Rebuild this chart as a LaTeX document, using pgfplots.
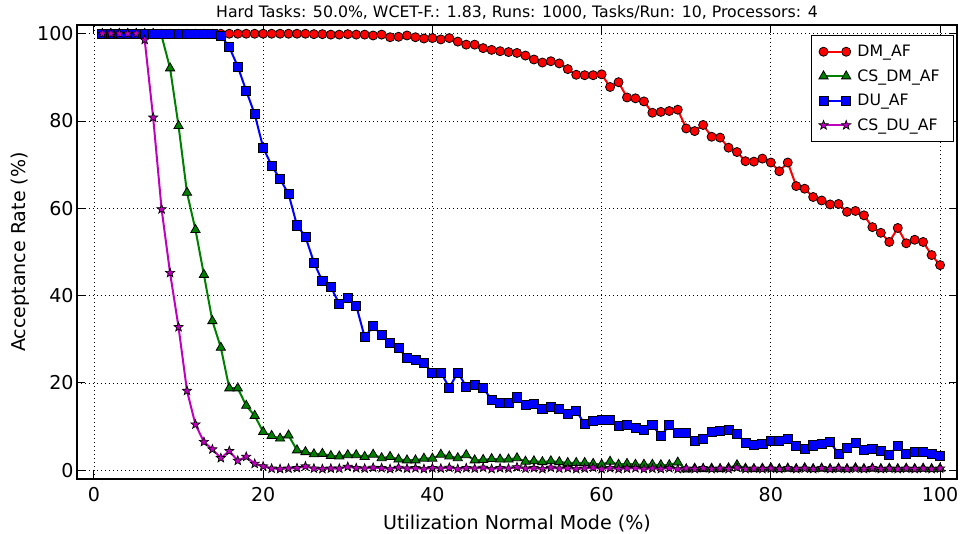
\documentclass[border=0pt]{standalone}
\usepackage{fontspec}
\setmainfont{DejaVu Sans}
\usepackage{pgfplots}
\pgfplotsset{compat=1.18}
\usepackage{pgfplotstable}

\pgfdeclareplotmark{fstar}{%
  \pgfpathmoveto{\pgfpointpolar{90}{\pgfplotmarksize}}%
  \pgfpathlineto{\pgfpointpolar{126}{0.42\pgfplotmarksize}}%
  \pgfpathlineto{\pgfpointpolar{162}{\pgfplotmarksize}}%
  \pgfpathlineto{\pgfpointpolar{198}{0.42\pgfplotmarksize}}%
  \pgfpathlineto{\pgfpointpolar{234}{\pgfplotmarksize}}%
  \pgfpathlineto{\pgfpointpolar{270}{0.42\pgfplotmarksize}}%
  \pgfpathlineto{\pgfpointpolar{306}{\pgfplotmarksize}}%
  \pgfpathlineto{\pgfpointpolar{342}{0.42\pgfplotmarksize}}%
  \pgfpathlineto{\pgfpointpolar{18}{\pgfplotmarksize}}%
  \pgfpathlineto{\pgfpointpolar{54}{0.42\pgfplotmarksize}}%
  \pgfpathclose
  \pgfusepathqfillstroke}

\definecolor{mplgreen}{rgb}{0,0.5,0}
\definecolor{mplmag}{rgb}{0.75,0,0.75}

\pgfplotstableread{
x dm csdm du csdu
1 100 100 100 100
2 100 100 100 100
3 100 100 100 100
4 100 100 100 100
5 100 100 100 100
6 100 100 100 98.6
7 100 100 100 80.8
8 100 99.5 100 59.8
9 100 92.1 100 45.2
10 100 78.9 100 32.8
11 100 63.6 100 18.2
12 100 55.1 100 10.5
13 100 44.8 100 6.5
14 100 34.2 100 4.8
15 100 28.1 99.6 2.8
16 100 18.8 96.9 4.4
17 100 18.8 92.5 2.2
18 100 14.8 86.9 3.1
19 100 12.5 81.6 1.5
20 100 8.8 73.9 0.9
21 100 7.9 69.8 0.4
22 100 7.3 66.7 0.3
23 100 8.0 63.3 0.4
24 100 4.6 56.1 0.5
25 100 4.2 53.5 0.9
26 99.9 3.7 47.6 0.4
27 99.9 3.8 43.3 0.3
28 99.8 3.3 42.0 0.4
29 99.8 3.2 38.1 0.4
30 99.9 3.5 39.4 0.8
31 99.8 3.5 37.7 0.5
32 99.8 3.1 30.5 0.4
33 99.6 3.6 33.0 0.6
34 99.8 2.8 31.0 0.5
35 99.2 3.1 29.1 0.3
36 99.3 2.5 28.0 0.6
37 99.6 2.3 25.7 0.4
38 99.2 2.3 25.3 0.5
39 98.9 2.7 24.5 0.3
40 99.0 2.7 22.4 0.5
41 98.7 3.6 22.4 0.4
42 99.0 3.2 18.9 0.6
43 98.2 2.8 22.4 0.3
44 97.5 3.5 19.2 0.5
45 97.5 2.3 19.5 0.4
46 96.7 2.4 18.9 0.6
47 96.3 2.6 16.1 0.3
48 96.0 2.5 15.5 0.5
49 95.8 2.5 15.5 0.4
50 95.6 2.8 16.7 0.7
51 95.0 2.0 14.9 0.4
52 94.1 2.1 15.3 0.5
53 93.4 1.9 14.0 0.3
54 93.7 2.1 14.6 0.6
55 93.2 1.9 14.0 0.4
56 91.9 1.7 12.9 0.5
57 90.6 1.7 13.6 0.3
58 90.5 1.7 10.6 0.4
59 90.5 1.5 11.3 0.6
60 90.7 1.3 11.5 0.3
61 87.8 2.0 11.6 0.5
62 88.9 1.3 10.2 0.3
63 85.4 1.5 10.5 0.4
64 85.2 1.3 9.8 0.5
65 84.5 1.3 9.3 0.3
66 81.9 1.3 10.3 0.4
67 82.1 1.2 7.9 0.3
68 82.3 1.2 10.3 0.5
69 82.6 1.8 8.6 0.3
70 78.3 0.2 8.6 0.4
71 77.7 0.4 6.7 0.3
72 79.1 0.3 7.1 0.5
73 76.4 0.4 8.8 0.3
74 76.2 0.3 9.0 0.4
75 73.9 0.5 9.2 0.3
76 72.9 1.2 8.4 0.6
77 70.8 0.4 6.3 0.3
78 70.7 0.3 5.9 0.4
79 71.4 0.4 6.1 0.3
80 70.5 0.5 6.7 0.4
81 68.5 0.3 6.7 0.3
82 70.5 0.4 7.1 0.5
83 65.1 0.3 5.5 0.3
84 64.5 0.5 5.0 0.4
85 62.6 0.3 5.7 0.3
86 61.8 0.4 6.0 0.5
87 60.9 0.3 6.4 0.3
88 61.0 0.4 3.8 0.4
89 59.2 0.3 5.2 0.3
90 59.4 0.5 6.3 0.4
91 58.4 0.3 4.6 0.3
92 55.7 0.4 4.8 0.5
93 54.4 0.3 4.5 0.3
94 52.3 0.4 3.6 0.4
95 55.5 0.3 5.6 0.3
96 52.0 0.4 3.8 0.4
97 52.8 0.3 4.2 0.3
98 52.3 0.4 4.2 0.4
99 49.3 0.3 3.8 0.3
100 47.0 0.4 3.3 0.4
}\datatable

\begin{document}
\begin{tikzpicture}
\begin{axis}[
  at={(0pt,0pt)}, anchor=south west,
  scale only axis, width=660pt, height=340.5pt,
  xmin=-2, xmax=102, ymin=-2, ymax=102,
  xtick={0,20,...,100}, ytick={0,20,...,100},
  tick align=inside, tick pos=both,
  major tick length=6pt,
  every tick/.style={black, line width=0.8pt},
  grid=major,
  major grid style={black, line width=0.6pt, dash pattern=on 0.75pt off 2.25pt},
  axis line style={line width=1pt},
  /pgf/number format/assume math mode=true,
  tick label style={font=\fontsize{14.3}{16}\selectfont},
  xticklabel style={yshift=-3pt},
  yticklabel style={xshift=1pt},
  label style={font=\fontsize{14.3}{16}\selectfont},
  xlabel style={yshift=-3pt},
  ylabel style={yshift=-1pt},
  xlabel={Utilization Normal Mode (\%)},
  ylabel={Acceptance Rate (\%)},
  title={Hard Tasks: 50.0\%, WCET-F.: 1.83, Runs: 1000, Tasks/Run: 10, Processors: 4},
  title style={font=\fontsize{11.8}{14}\selectfont, yshift=-5pt},
  legend style={at={(rel axis cs:0.997,0.978)}, anchor=north east,
    font=\fontsize{11.8}{14}\selectfont, draw=black, line width=1pt,
    fill=white, row sep=4.2pt, inner xsep=5.5pt, inner ysep=5pt,
    nodes={inner xsep=5pt}},
  legend cell align=left,
  legend image code/.code={\draw[#1] plot coordinates {(0pt,0pt) (17pt,0pt)};},
]
\addplot[red, line width=1.5pt, mark=*, mark size=3.4pt,
  mark options={draw=black, fill=red, line width=0.6pt, solid}]
  table[x=x, y=dm] {\datatable};
\addlegendentry{DM\_AF}
\addplot[mplgreen, line width=1.5pt, mark=triangle*, mark size=4pt,
  mark options={draw=black, fill=mplgreen, line width=0.6pt, solid}]
  table[x=x, y=csdm] {\datatable};
\addlegendentry{CS\_DM\_AF}
\addplot[blue, line width=1.5pt, mark=square*, mark size=3.4pt,
  mark options={draw=black, fill=blue, line width=0.6pt, solid}]
  table[x=x, y=du] {\datatable};
\addlegendentry{DU\_AF}
\addplot[mplmag, line width=1.5pt, mark=fstar, mark size=3.6pt,
  mark options={draw=black, fill=mplmag, line width=0.5pt, solid}]
  table[x=x, y=csdu] {\datatable};
\addlegendentry{CS\_DU\_AF}
\end{axis}
\pgfresetboundingbox
\path[use as bounding box] (-57.75pt,-40.5pt) rectangle (662.25pt,359.25pt);
\end{tikzpicture}
\end{document}
